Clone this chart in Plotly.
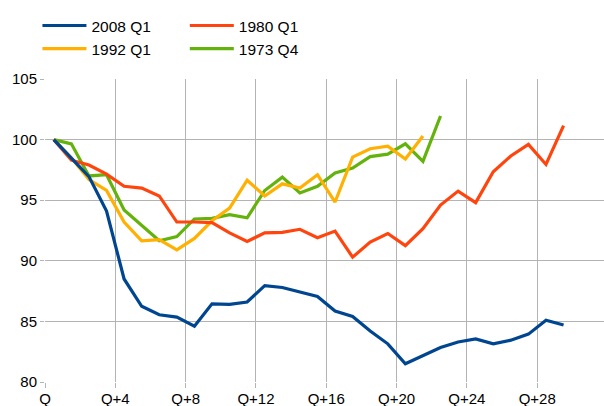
import numpy as np
import plotly.graph_objects as go

tick_labels = ["Q", "Q+4", "Q+8", "Q+12", "Q+16", "Q+20", "Q+24", "Q+28"]
tick_quarters = [0, 4, 8, 12, 16, 20, 24, 28]

s2008 = [100, 98.45, 96.95, 94.1, 88.5, 86.25, 85.55, 85.35, 84.6, 86.45,
         86.4, 86.6, 87.95, 87.8, 87.45, 87.05, 85.85, 85.4, 84.2, 83.15,
         81.5, 82.2, 82.85, 83.3, 83.55, 83.15, 83.45, 83.95, 85.1, 84.7]
s1980 = [100, 98.3, 97.9, 97.15, 96.15, 96.0, 95.35, 93.2, 93.2, 93.15,
         92.3, 91.6, 92.3, 92.35, 92.6, 91.9, 92.45, 90.3, 91.55, 92.25,
         91.25, 92.65, 94.6, 95.75, 94.8, 97.35, 98.65, 99.6, 97.95, 101.15]
s1992 = [100, 98.5, 96.7, 95.8, 93.2, 91.65, 91.75, 90.9, 91.85, 93.3,
         94.35, 96.65, 95.35, 96.35, 96.0, 97.1, 94.85, 98.55, 99.25, 99.45,
         98.4, 100.3]
s1973 = [100, 99.65, 97.0, 97.1, 94.2, 92.95, 91.65, 92.0, 93.45, 93.5,
         93.8, 93.55, 95.8, 96.9, 95.6, 96.15, 97.25, 97.65, 98.6, 98.8,
         99.65, 98.2, 101.95]

series = [
    ("1973 Q4", s1973, "#64b20c", "legend2", 2),
    ("1992 Q1", s1992, "#ffb000", "legend", 2),
    ("1980 Q1", s1980, "#ff450d", "legend2", 1),
    ("2008 Q1", s2008, "#004590", "legend", 1),
]

fig = go.Figure()
for name, vals, color, leg, rank in series:
    q = np.arange(len(vals)) + 0.5  # category-centred positions
    fig.add_trace(go.Scatter(x=q, y=vals, mode="lines", name=name,
                             line=dict(color=color, width=3.2),
                             legend=leg, legendrank=rank))

grid = "#b3b3b3"
legfont = dict(size=15.5, family="Liberation Sans, Arial, sans-serif", color="#000")
fig.update_layout(
    width=604, height=406,
    margin=dict(l=45, r=0, t=79, b=24, autoexpand=False),
    paper_bgcolor="white", plot_bgcolor="white",
    font=dict(family="Liberation Sans, Arial, sans-serif", size=15, color="#000"),
    xaxis=dict(range=[0, 31.8], tickvals=tick_quarters, ticktext=tick_labels,
               tickangle=0, ticklabelstandoff=-2,
               showgrid=True, gridcolor=grid, gridwidth=1, zeroline=False,
               ticks="outside", ticklen=5, tickcolor=grid, showline=False,
               tickfont=dict(size=15)),
    yaxis=dict(range=[80, 105], dtick=5, showgrid=True, gridcolor=grid, gridwidth=1,
               zeroline=False, ticks="outside", ticklen=4, tickcolor=grid,
               showline=False, tickfont=dict(size=15)),
    legend=dict(x=0.062, y=0.978, xref="container", yref="container",
                xanchor="left", yanchor="top", orientation="v",
                font=legfont, itemwidth=44, tracegroupgap=0,
                bgcolor="rgba(0,0,0,0)"),
    legend2=dict(x=0.306, y=0.978, xref="container", yref="container",
                 xanchor="left", yanchor="top", orientation="v",
                 font=legfont, itemwidth=44, tracegroupgap=0,
                 bgcolor="rgba(0,0,0,0)"),
)
fig.write_html("out.html", config={"displayModeBar": False},
               post_script="document.body.style.margin='0';")
